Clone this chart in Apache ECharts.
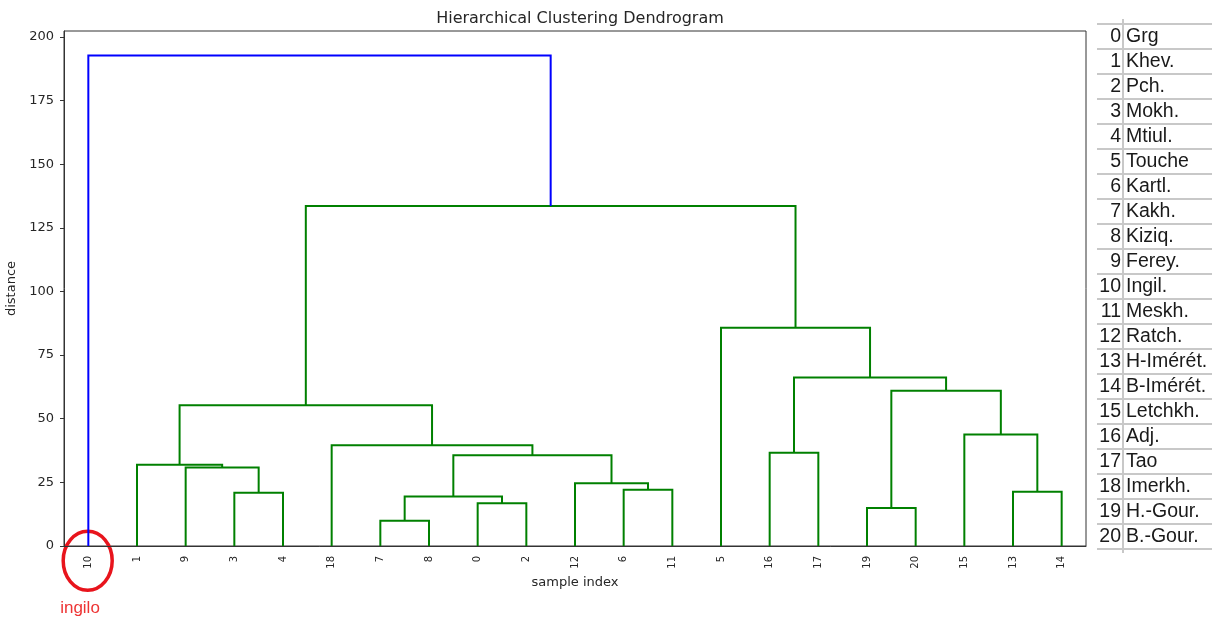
<!DOCTYPE html>
<html><head><meta charset="utf-8">
<script src="https://cdn.jsdelivr.net/npm/echarts@6/dist/echarts.min.js"></script>
<style>html,body{margin:0;padding:0;background:#fff}#c{width:1212px;height:620px}</style>
</head><body><div id="c"></div><script>
// Leaves in dendrogram order (sample indices)
const leafOrder = ['10','1','9','3','4','18','7','8','0','2','12','6','11','5','16','17','19','20','15','13','14'];
// Merges: children refer to leaf labels or 'mK' (K-th merge); heights are distances
const mergeLeft   = ['3', '9', '1', '7', '0', 'm3','6', '12','m5','18','m2','16','19','13','15','m12','m11','5', 'm10','10'];
const mergeRight  = ['4', 'm0','m1','8', '2', 'm4','11','m6','m7','m8','m9','17','20','14','m13','m14','m15','m16','m17','m18'];
const mergeHeight = [20.9,30.8,31.9,9.9,16.8,19.4,22.1,24.7,35.7,39.6,55.3,36.6,14.9,21.3,43.8,61.0,66.2,85.7,133.6,192.7];
const yTicks = [0,25,50,75,100,125,150,175,200];
const tableIndex = ['0','1','2','3','4','5','6','7','8','9','10','11','12','13','14','15','16','17','18','19','20'];
const tableNames = ['Grg','Khev.','Pch.','Mokh.','Mtiul.','Touche','Kartl.','Kakh.','Kiziq.','Ferey.','Ingil.','Meskh.','Ratch.','H-Imérét.','B-Imérét.','Letchkh.','Adj.','Tao','Imerkh.','H.-Gour.','B.-Gour.'];

const nodes = {};
leafOrder.forEach((l, i) => { nodes[l] = {x: i, y: 0}; });
const maxH = Math.max(...mergeHeight);
const threshold = 0.7 * maxH;
const links = [];
mergeHeight.forEach((h, k) => {
  const a = nodes[mergeLeft[k]], b = nodes[mergeRight[k]];
  nodes['m' + k] = {x: (a.x + b.x) / 2, y: h};
  links.push({
    coords: [[a.x, a.y], [a.x, h], [b.x, h], [b.x, b.y]],
    lineStyle: {color: h > threshold ? '#0000ff' : '#008000'}
  });
});
const yMax = maxH * 1.05;

// Table graphics
const g = [];
const tX0 = 1097, tSep = 1123, tTop = 24, rowH = 25;
for (let i = 0; i <= tableNames.length; i++) {
  g.push({type:'line', shape:{x1:tX0, y1:tTop + i*rowH, x2:1212, y2:tTop + i*rowH}, style:{stroke:'#c8c8c8', lineWidth:2}, silent:true});
}
g.push({type:'line', shape:{x1:tSep, y1:19, x2:tSep, y2:553}, style:{stroke:'#c8c8c8', lineWidth:2}, silent:true});
tableNames.forEach((n, i) => {
  const cy = tTop + i*rowH + rowH/2 + 0.5;
  g.push({type:'text', x:1121, y:cy, style:{text:tableIndex[i], align:'right', verticalAlign:'middle', fontSize:19.5, fontFamily:'Liberation Sans', fill:'#1a1a1a'}, silent:true});
  g.push({type:'text', x:1126, y:cy, style:{text:n, align:'left', verticalAlign:'middle', fontSize:19.5, fontFamily:'Liberation Sans', fill:'#1a1a1a'}, silent:true});
});
// Annotation
g.push({type:'ellipse', shape:{cx:87.7, cy:560.7, rx:24.5, ry:29.5}, style:{fill:'none', stroke:'#e8141c', lineWidth:3.5}, silent:true});
g.push({type:'text', x:80, y:608, style:{text:'ingilo', align:'center', verticalAlign:'middle', fontSize:17, fontFamily:'Liberation Sans', fill:'#ee3434'}, silent:true});

const chart = echarts.init(document.getElementById('c'), null, {renderer:'canvas'});
chart.setOption({
  backgroundColor:'#fff',
  animation:false,
  title:{text:'Hierarchical Clustering Dendrogram', left:575, top:6, textAlign:'center',
    textStyle:{fontSize:16, fontWeight:'normal', color:'#262626', fontFamily:'DejaVu Sans'}},
  grid:{left:64, right:126, top:31, bottom:74, show:true, borderColor:'#333', borderWidth:1,
    backgroundColor:'transparent', containLabel:false, outerBoundsMode:'none'},
  xAxis:[
    {type:'value', min:-0.5, max:20.5, show:false},
    {type:'category', data:leafOrder, position:'bottom', boundaryGap:true,
     axisLine:{show:true, onZero:false, lineStyle:{color:'#333', width:1}}, axisTick:{show:false}, splitLine:{show:false},
     axisLabel:{rotate:90, fontSize:10, margin:10, color:'#262626', fontFamily:'DejaVu Sans', interval:0},
     name:'sample index', nameLocation:'middle', nameGap:26,
     nameTextStyle:{fontSize:13, color:'#262626', fontFamily:'DejaVu Sans'}}
  ],
  yAxis:{type:'value', min:0, max:yMax, interval:25, position:'left',
    axisLine:{show:true, onZero:false, lineStyle:{color:'#333', width:1}},
    axisTick:{show:true, inside:false, length:4, customValues:yTicks, lineStyle:{color:'#333'}},
    axisLabel:{customValues:yTicks, fontSize:13, margin:10, color:'#262626', fontFamily:'DejaVu Sans'},
    splitLine:{show:false},
    name:'distance', nameLocation:'middle', nameGap:40, nameRotate:90,
    nameTextStyle:{fontSize:13, color:'#262626', fontFamily:'DejaVu Sans'}},
  series:[{type:'lines', coordinateSystem:'cartesian2d', xAxisIndex:0, yAxisIndex:0, polyline:true, silent:true,
    lineStyle:{width:2, opacity:1}, data:links}],
  graphic:g
});
</script></body></html>
